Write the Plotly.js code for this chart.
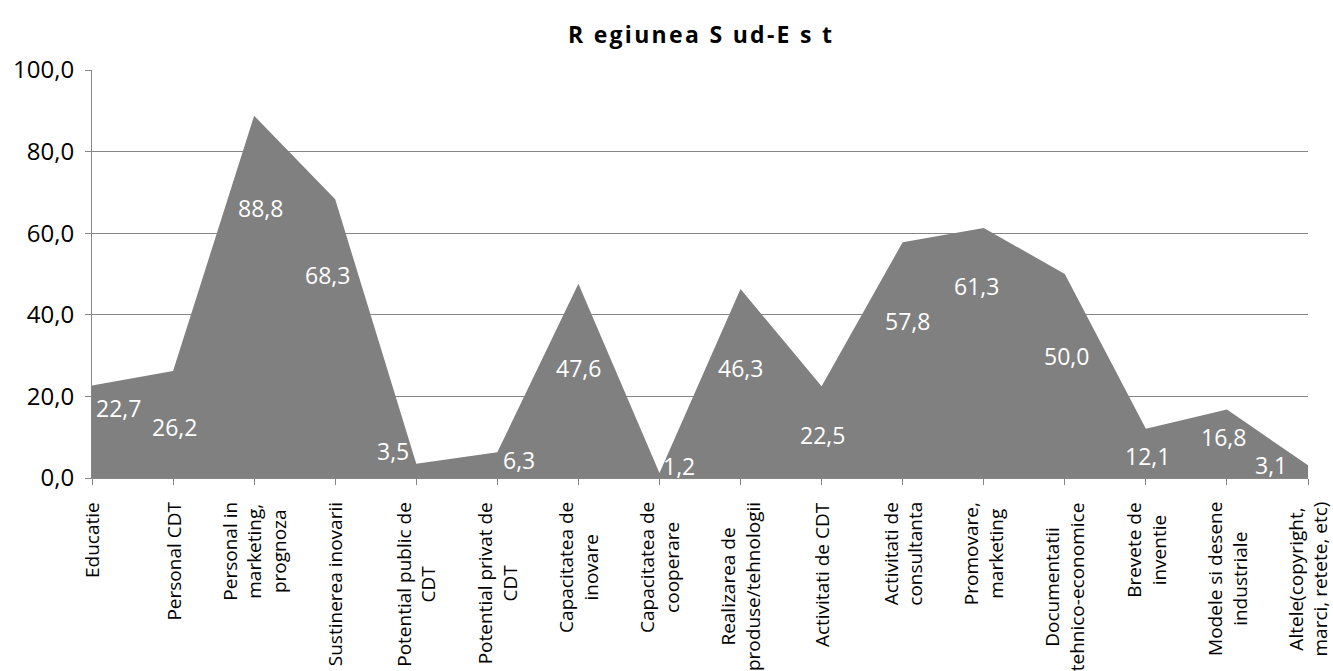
<!DOCTYPE html>
<html><head><meta charset="utf-8">
<script src="https://cdn.plot.ly/plotly-3.0.1.min.js"></script>
<style>html,body{margin:0;padding:0;background:#fff}#chart{width:1333px;height:671px}</style>
</head><body><div id="chart"></div>
<script>
const categories = [
  "Educatie","Personal CDT","Personal in<br>marketing,<br>prognoza","Sustinerea inovarii",
  "Potential public de<br>CDT","Potential privat de<br>CDT","Capacitatea de<br>inovare","Capacitatea de<br>cooperare",
  "Realizarea de<br>produse/tehnologii","Activitati de CDT","Activitati de<br>consultanta","Promovare,<br>marketing",
  "Documentatii<br>tehnico-economice","Brevete de<br>inventie","Modele si desene<br>industriale","Altele(copyright,<br>marci, retete, etc)"
];
const values = [22.7,26.2,88.8,68.3,3.5,6.3,47.6,1.2,46.3,22.5,57.8,61.3,50.0,12.1,16.8,3.1];
const valueLabels = ["22,7","26,2","88,8","68,3","3,5","6,3","47,6","1,2","46,3","22,5","57,8","61,3","50,0","12,1","16,8","3,1"];
const yTicks = [0,20,40,60,80,100];
const titleText = "R egiunea S ud-E s t";

// label placement (layout only, as in the original chart)
const labelY = [17.2,12.5,66.2,49.8,6.6,4.4,27.0,2.9,27.0,10.5,38.5,47.1,29.9,5.4,10.0,3.2];
const labelXShift = [26,1,6,-8,-23,22,0,20,0,1,5,-7,2,2,-3,-37];

const FONT = 'Open Sans, sans-serif';
const idx = categories.map((c,i)=>i);
const trace = {
  x: idx, y: values, type:'scatter', mode:'lines', fill:'tozeroy',
  fillcolor:'#808080', line:{width:0, color:'#808080'}, hoverinfo:'skip'
};
const valueAnn = values.map((v,i)=>({
  x:i, y:labelY[i], xref:'x', yref:'y', text:valueLabels[i], showarrow:false,
  xshift:labelXShift[i], font:{family:FONT, size:23, color:'#ffffff'}
}));
const catAnn = categories.map((c,i)=>({
  x:i, y:0, xref:'x', yref:'paper', text:c, showarrow:false, textangle:-90,
  xanchor:'center', yanchor:'top', yshift:-22, align:'center',
  font:{family:FONT, size:19, color:'#000'}
}));
// slightly spaced letters, as in the original title
const spacedTitle = titleText.split('').join('\u200A');
const layout = {
  width:1333, height:671,
  margin:{l:92, r:25, t:70, b:193},
  paper_bgcolor:'#fff', plot_bgcolor:'#fff',
  separators:',.',
  showlegend:false,
  title:{text:'<b>'+spacedTitle+'</b>', x:0.5, xref:'paper', xanchor:'center', y:0.948, yanchor:'middle',
         font:{family:FONT, size:23, color:'#000'}},
  xaxis:{
    range:[0,15], tickmode:'array', tickvals:idx, showticklabels:false,
    showgrid:false, zeroline:false, showline:true, linecolor:'#868686', linewidth:1,
    ticks:'outside', ticklen:6, tickcolor:'#868686'
  },
  yaxis:{
    range:[0,100], tickmode:'array', tickvals:yTicks, tickformat:'.1f',
    showgrid:true, gridcolor:'#868686', gridwidth:1, zeroline:false,
    showline:true, linecolor:'#868686', linewidth:1,
    ticks:'outside', ticklen:6, tickcolor:'#868686', ticklabelstandoff:6,
    tickfont:{family:FONT, size:24, color:'#000'}
  },
  annotations: valueAnn.concat(catAnn)
};
Plotly.newPlot('chart',[trace],layout,{displayModeBar:false, staticPlot:true});
</script></body></html>
